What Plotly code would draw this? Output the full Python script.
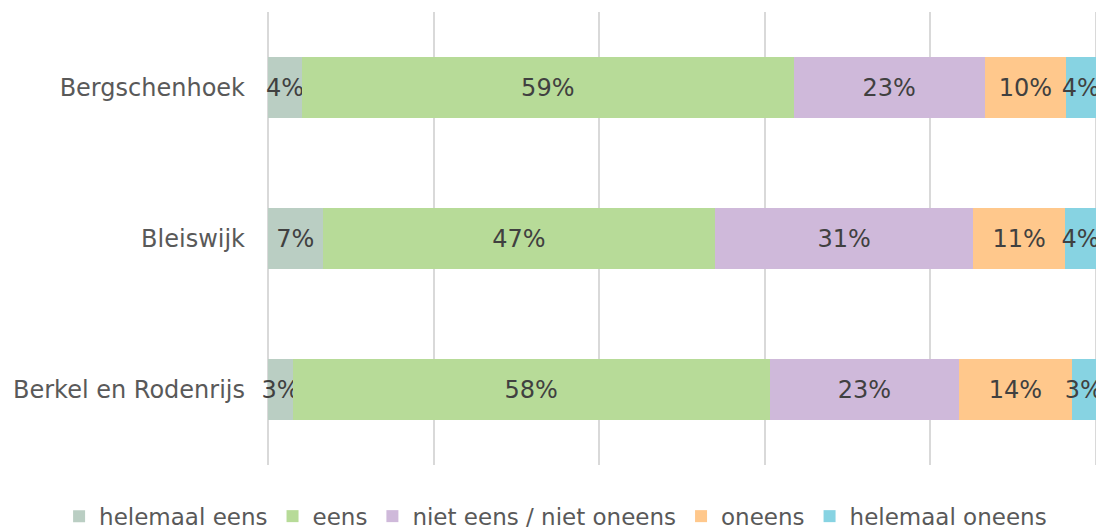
import plotly.graph_objects as go

# categories (top to bottom in the chart)
locaties = ["Bergschenhoek", "Bleiswijk", "Berkel en Rodenrijs"]

# percentages per answer
helemaal_eens = [4.1, 6.6, 3.0]
eens = [59.4, 47.4, 57.6]
neutraal = [23.1, 31.2, 22.9]
oneens = [9.8, 11.1, 13.6]
helemaal_oneens = [3.6, 3.7, 2.9]

series = [
    ("helemaal eens", helemaal_eens, "#BACEC3"),
    ("eens", eens, "#B7DB98"),
    ("niet eens / niet oneens", neutraal, "#CFB9DA"),
    ("oneens", oneens, "#FFC88C"),
    ("helemaal oneens", helemaal_oneens, "#87D3E2"),
]

fig = go.Figure()
for naam, waarden, kleur in series:
    fig.add_trace(go.Bar(
        y=locaties, x=waarden, name=naam, orientation="h",
        marker=dict(color=kleur, line=dict(width=0)),
        texttemplate="%{x:.0f}%", textposition="inside", textangle=0,
        insidetextanchor="middle", constraintext="none", cliponaxis=False,
        textfont=dict(family="DejaVu Sans", size=24, color="#404040"),
        width=0.4,
    ))

fig.update_layout(
    barmode="stack",
    width=1096, height=524,
    margin=dict(l=260, r=6.76, t=4, b=67, autoexpand=False),
    plot_bgcolor="white", paper_bgcolor="white",
    font=dict(family="DejaVu Sans", color="#595959"),
    showlegend=True,
    legend=dict(
        orientation="h", x=-0.252, xanchor="left",
        y=-0.113, yanchor="middle",
        font=dict(size=23, color="#595959"),
        traceorder="normal", itemwidth=30,
    ),
)
fig.update_xaxes(range=[0, 100.15], tick0=0, dtick=20, showticklabels=False,
                 showgrid=True, gridcolor="#D9D9D9", gridwidth=1.5,
                 zeroline=True, zerolinecolor="#D9D9D9", zerolinewidth=1.5,
                 showline=False)
fig.update_yaxes(categoryorder="array", categoryarray=locaties[::-1],
                 showgrid=False, showline=False, ticks="",
                 ticklabelstandoff=22,
                 tickfont=dict(size=24, color="#595959"))

fig.write_html("out.html")
